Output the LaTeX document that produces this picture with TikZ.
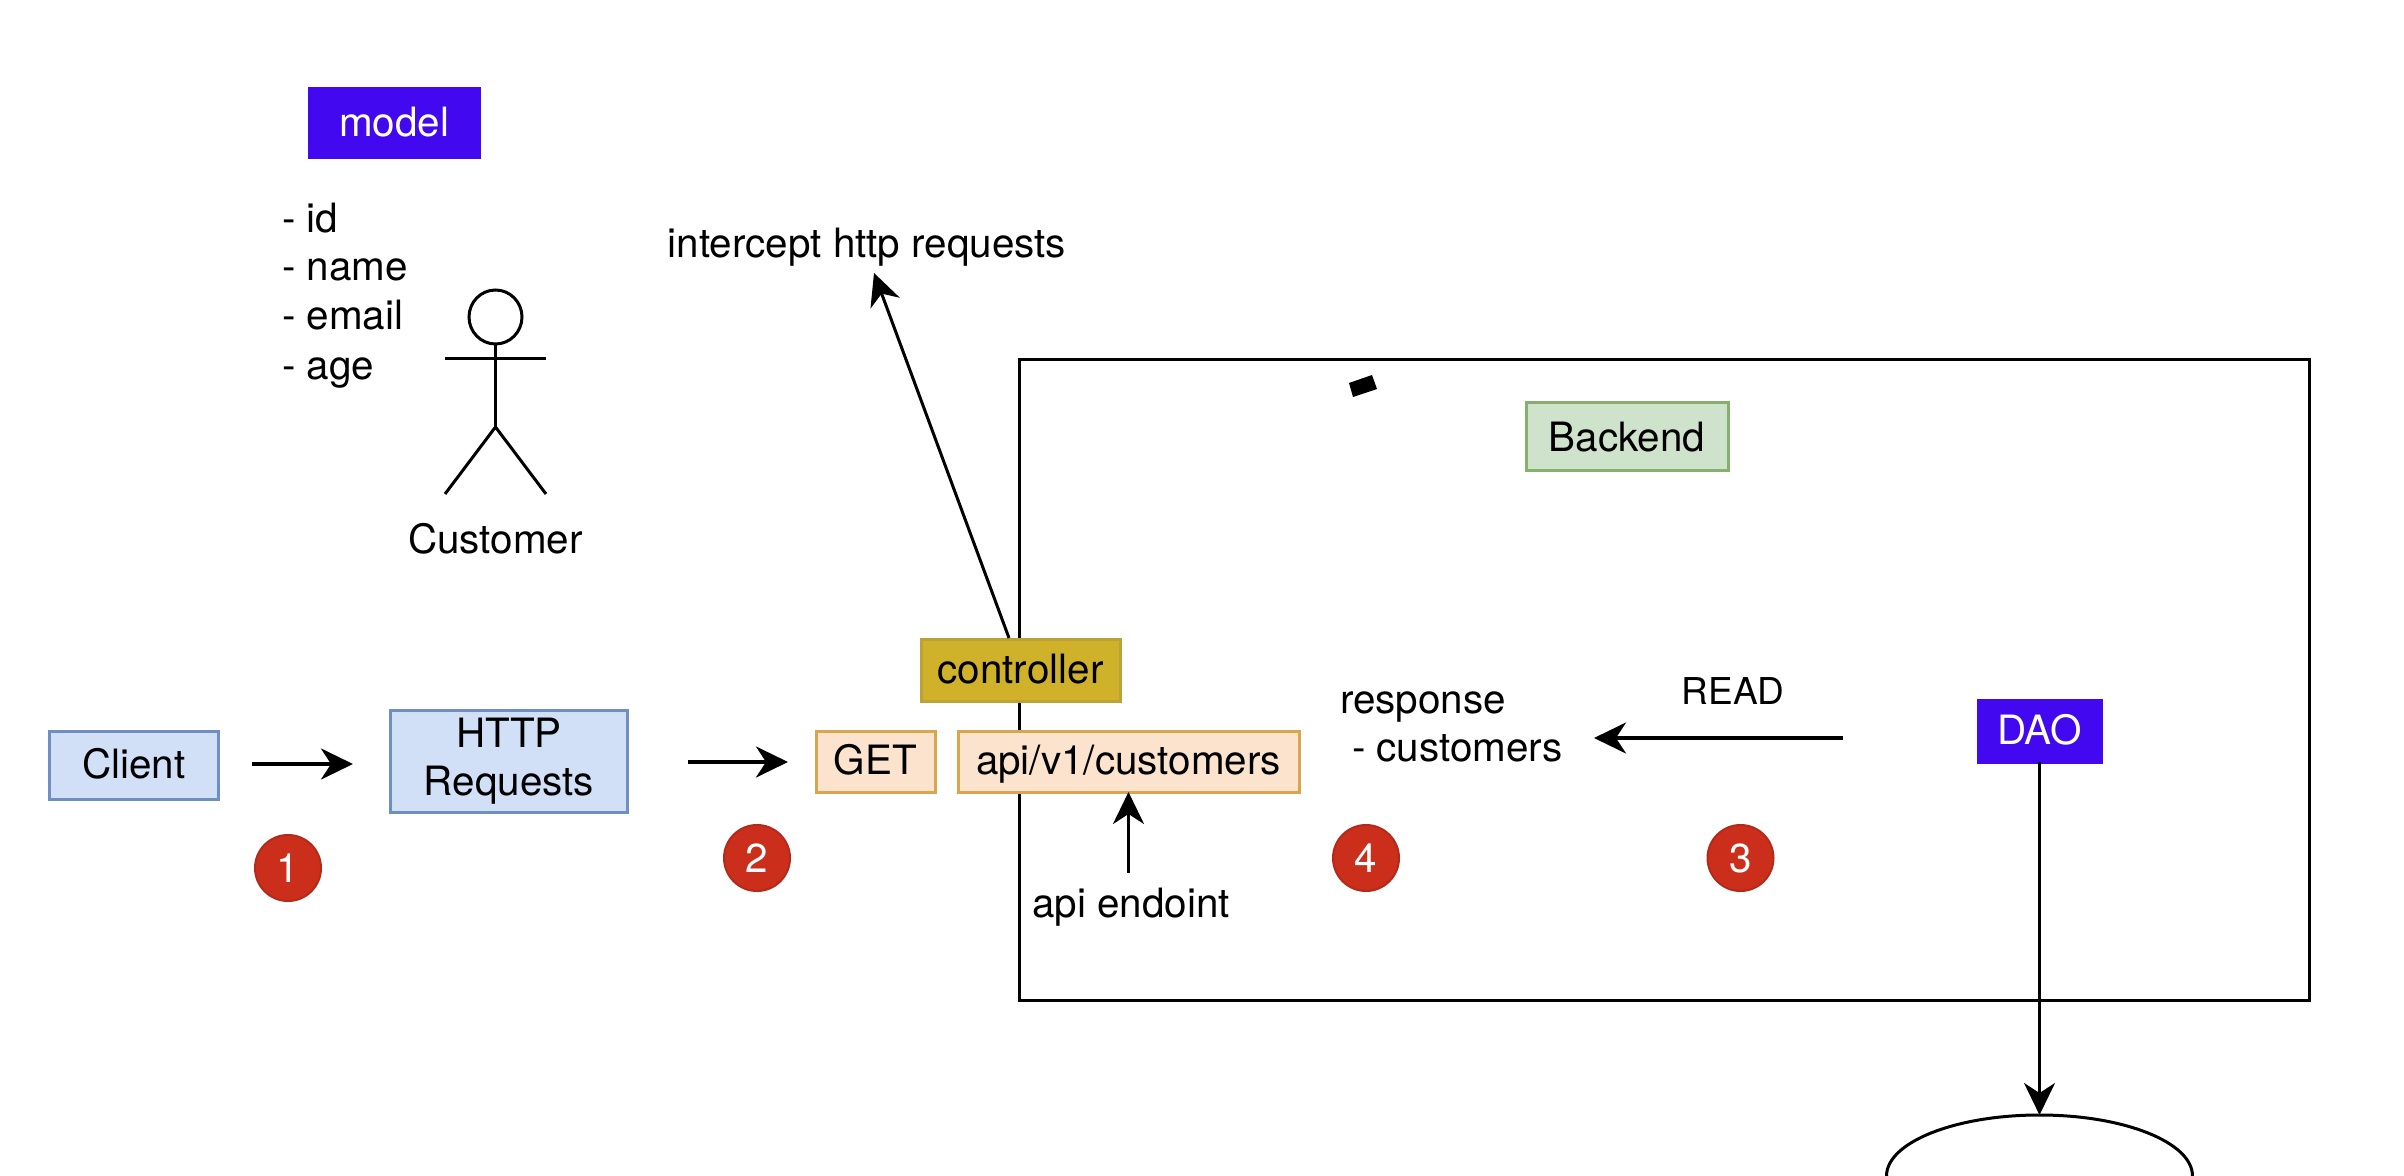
\documentclass[tikz,border=0pt]{standalone}
\usepackage{fontspec}
\setmainfont{TeX Gyre Heros}
\usetikzlibrary{arrows.meta,shapes.geometric}
\definecolor{indigo}{HTML}{4208F0}
\definecolor{bluefill}{HTML}{D1E0F7}
\definecolor{bluedraw}{HTML}{6F8FC4}
\definecolor{orangefill}{HTML}{FBE3CE}
\definecolor{orangedraw}{HTML}{D9A64E}
\definecolor{goldfill}{HTML}{CFB12A}
\definecolor{golddraw}{HTML}{BCA236}
\definecolor{greenfill}{HTML}{CFE3CC}
\definecolor{greendraw}{HTML}{86B06E}
\definecolor{badgefill}{HTML}{CB2F1C}
\definecolor{badgedraw}{HTML}{B42A1A}
\tikzset{
  every node/.style={font=\fontsize{20.2pt}{24pt}\selectfont, inner sep=0pt, outer sep=0pt},
  boxed/.style={rectangle, line width=1.5pt, text height=13.2pt, text depth=0pt},
  bluebox/.style={boxed, fill=bluefill, draw=bluedraw},
  orangebox/.style={boxed, fill=orangefill, draw=orangedraw},
  goldbox/.style={boxed, fill=goldfill, draw=golddraw},
  greenbox/.style={boxed, fill=greenfill, draw=greendraw},
  indigobox/.style={boxed, fill=indigo, draw=indigo, text=white},
  badge/.style={circle, minimum size=33pt, fill=badgefill, draw=badgedraw, line width=1pt, text=white, text height=14.6pt, text depth=0pt},
  thinline/.style={line width=1.5pt, black},
  flow/.style={line width=1.9pt, black, -{Stealth[length=16pt,width=15.5pt,inset=5pt]}},
  thinflow/.style={line width=1.5pt, black, -{Stealth[length=16pt,width=15.5pt,inset=5pt]}},
}
\begin{document}
\begin{tikzpicture}[x=0.5pt,y=-0.5pt]
\useasboundingbox (0,0) rectangle (2404,1176);
\clip (0,0) rectangle (2404,1176);
\fill[white] (0,0) rectangle (2404,1176);

% frame
\node[draw=black, line width=1.6pt, rectangle, minimum width=645pt, minimum height=320.5pt] (frame) at (1664.5,680) {};
\fill[black] (1349,383) -- (1372,375) -- (1377,389) -- (1353,397) -- cycle;

% model
\node[indigobox, minimum width=85pt, minimum height=34.5pt] (model) at (394,123) {model};
\node[anchor=base west] (attrid) at (282,232.5) {- id};
\node[anchor=base west] (attrname) at (282,281) {- name};
\node[anchor=base west] (attremail) at (282,330) {- email};
\node[anchor=base west] (attrage) at (282,380) {- age};

% actor
\node[ellipse, draw=black, line width=1.5pt, minimum width=26.5pt, minimum height=27pt] (head) at (495.5,317) {};
\coordinate (arml) at (445,359);
\coordinate (armr) at (546,359);
\coordinate (hip) at (495.5,427);
\coordinate (legl) at (445,494);
\coordinate (legr) at (546,494);
\draw[thinline] (head.south) -- (hip);
\draw[thinline] (arml) -- (armr);
\draw[thinline] (legl) -- (hip) -- (legr);
\node[anchor=base] (customer) at (495.5,553) {Customer};

% intercept
\node[anchor=base] (intercept) at (867,258) {intercept http requests};

% flow boxes
\node[bluebox, minimum width=84.5pt, minimum height=34pt] (client) at (134,765) {Client};
\node[bluebox, minimum width=118.5pt, minimum height=51pt, align=center, text height=, text depth=, font=\fontsize{20.2pt}{24pt}\selectfont] (http) at (509,761) {HTTP\\Requests};
\node[orangebox, minimum width=59.5pt, minimum height=30.5pt] (get) at (875.5,761.5) {GET};
\node[orangebox, minimum width=170.5pt, minimum height=30.5pt] (api) at (1128.5,761.5) {api/v1/customers};
\node[goldbox, minimum width=99.5pt, minimum height=31pt] (controller) at (1020.5,670) {controller};
\node[greenbox, text height=14.6pt, minimum width=101pt, minimum height=34pt] (backend) at (1627,437) {Backend};
\node[indigobox, minimum width=61.5pt, minimum height=31pt] (dao) at (2039.5,731) {DAO};

% texts
\node[anchor=base] (endpoint) at (1131,917) {api endoint};
\node[anchor=base west, align=left, font=\fontsize{20.2pt}{24pt}\selectfont] (response) at (1340,761.5) {response\\\hspace*{6pt}- customers};
\node[anchor=base, font=\fontsize{18.5pt}{22pt}\selectfont] (read) at (1733,704) {READ};

% database
\node[ellipse, draw=black, line width=1.5pt, fill=white, minimum width=153pt, minimum height=61pt] (db) at (2039.5,1176) {};

% badges
\node[badge] (b1) at (288,868) {1};
\node[badge] (b2) at (757,858) {2};
\node[badge] (b4) at (1366,858) {4};
\node[badge] (b3) at (1740.5,858) {3};

% connector ends
\coordinate (c1s) at (252,764);
\coordinate (c1e) at (353,764);
\coordinate (c2s) at (688,762);
\coordinate (c2e) at (788,762);
\coordinate (ctrltop) at (1009,638);
\coordinate (intend) at (874,273);
\coordinate (apisrc) at (1128.5,873);
\coordinate (reads) at (1843,738);
\coordinate (reade) at (1594,738);

\draw[flow] (c1s) -- (c1e);
\draw[flow] (c2s) -- (c2e);
\draw[thinflow] (ctrltop) -- (intend);
\draw[thinflow] (apisrc) -- (api.south);
\draw[flow] (reads) -- (reade);
\draw[thinflow] (dao.south) -- (db.north);
\end{tikzpicture}
\end{document}
